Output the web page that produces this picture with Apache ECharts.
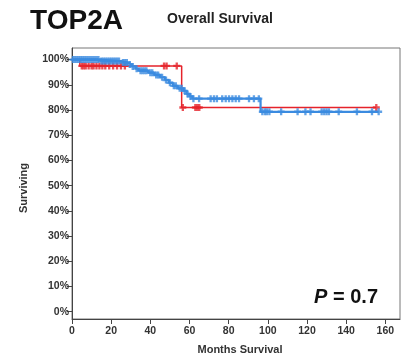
<!DOCTYPE html>
<html>
<head>
<meta charset="utf-8">
<script src="https://cdn.jsdelivr.net/npm/echarts@6/dist/echarts.min.js"></script>
<style>
  html, body { margin: 0; padding: 0; background: #fff; }
  #chart { width: 403px; height: 358px; }
</style>
</head>
<body>
<div id="chart"></div>
<script>
// Kaplan-Meier curves for TOP2A: event times (months) and survival (%) after each step
const blueTimes = [0, 14, 25, 28.5, 30.5, 32.5, 34, 39, 42, 45, 47.5, 49.5, 51.5, 54, 57, 58.5, 60, 61.5, 96.3];
const blueSurv  = [100, 99.4, 98.8, 98.1, 97.3, 96.4, 95.6, 94.8, 93.9, 93.0, 91.9, 90.8, 89.6, 88.6, 87.6, 86.4, 85.4, 84.5, 79.3];
const blueCensored = [0.5, 1.5, 2.5, 3.5, 4.5, 5.5, 6.5, 7.5, 8.5, 9.5, 10.5, 11.5, 12.5, 13.5, 15, 16, 17, 18, 19, 20,
  21, 22, 23, 24, 26, 27, 28, 29.5, 31, 33, 35, 36, 37, 38, 40, 41, 43, 44, 46, 48, 50, 52, 53, 55, 56, 57.5, 59, 60.5, 62,
  64.9, 70.8, 72.5, 74, 76.7, 78.5, 80.2, 81.9, 83.6, 85.3, 90.4, 92.9, 95.4,
  97.2, 98.5, 99.5, 100.8, 106.8, 115.2, 119.2, 121.8, 127.5, 128.8, 130.0, 131.2, 136.2, 145.5, 153.2, 156.6];
const blueEnd = 156.6;

const redTimes = [0, 4, 56];
const redSurv  = [100, 97.5, 81.0];
const redCensored = [5, 6, 7, 8.5, 10, 11, 12.5, 14, 15.5, 17, 19, 21, 23, 25, 27, 47, 48.3, 53.5, 56.6, 63, 64, 65, 155.4];
const redEnd = 155.4;

const xTicks = [0, 20, 40, 60, 80, 100, 120, 140, 160];
const yTicks = [0, 10, 20, 30, 40, 50, 60, 70, 80, 90, 100];

const FONT = "'Liberation Sans', Arial, Helvetica, sans-serif";
const BLUE = '#3b8be0';
const RED = '#e5232b';
// filled plus sign used for censored observations
const CROSS = 'path://M3,0h3v3h3v3h-3v3h-3v-3h-3v-3h3z';

// survival level in effect at time t
function levelAt(times, surv, t) {
  let v = surv[0];
  for (let i = 0; i < times.length; i++) if (times[i] <= t) v = surv[i];
  return v;
}
function curve(times, surv, end) {
  const pts = times.map((t, i) => [t, surv[i]]);
  pts.push([end, surv[surv.length - 1]]);
  return pts;
}
function marks(times, surv, cens) {
  return cens.map(t => [t, levelAt(times, surv, t)]);
}

const chart = echarts.init(document.getElementById('chart'), null, { renderer: 'canvas' });
chart.setOption({
  animation: false,
  backgroundColor: '#fff',
  grid: {
    left: 72, right: 3, top: 48, bottom: 39,
    show: true, borderColor: '#777', borderWidth: 1, backgroundColor: 'transparent'
  },
  xAxis: {
    type: 'value', min: 0, max: 167.5, interval: 20,
    axisLine: { onZero: false, lineStyle: { color: '#444', width: 1 } },
    axisTick: { show: true, length: 5, lineStyle: { color: '#444' }, customValues: xTicks },
    axisLabel: { customValues: xTicks, color: '#333', fontSize: 10.5, fontWeight: 'bold', fontFamily: FONT, margin: 7 },
    splitLine: { show: false }
  },
  yAxis: {
    type: 'value', min: -2.9, max: 104.6,
    axisLine: { show: true, lineStyle: { color: '#444', width: 1 } },
    axisTick: { show: true, length: 5, lineStyle: { color: '#444' }, customValues: yTicks },
    axisLabel: { customValues: yTicks, formatter: '{value}%', color: '#333', fontSize: 10.5, fontWeight: 'bold', fontFamily: FONT, margin: 3 },
    splitLine: { show: false }
  },
  series: [
    {
      type: 'line', step: 'end', data: curve(redTimes, redSurv, redEnd),
      showSymbol: false, lineStyle: { color: RED, width: 1.5 }, z: 2
    },
    {
      type: 'scatter', data: marks(redTimes, redSurv, redCensored),
      symbol: CROSS, symbolSize: 7, itemStyle: { color: RED }, z: 3
    },
    {
      type: 'line', step: 'end', data: curve(blueTimes, blueSurv, blueEnd),
      showSymbol: false, lineStyle: { color: BLUE, width: 2.2 }, z: 4
    },
    {
      type: 'scatter', data: marks(blueTimes, blueSurv, blueCensored),
      symbol: CROSS, symbolSize: 7, itemStyle: { color: BLUE }, z: 5
    }
  ],
  graphic: [
    { type: 'text', x: 76.5, y: 21, style: { text: 'TOP2A', fill: '#111', font: "bold 28px " + FONT, textAlign: 'center', textVerticalAlign: 'middle' } },
    { type: 'text', x: 220, y: 19.5, style: { text: 'Overall Survival', fill: '#222', font: "bold 14px " + FONT, textAlign: 'center', textVerticalAlign: 'middle' } },
    { type: 'text', x: 24, y: 188, rotation: Math.PI / 2, style: { text: 'Surviving', fill: '#333', font: "bold 11px " + FONT, textAlign: 'center', textVerticalAlign: 'middle' } },
    { type: 'text', x: 240, y: 350, style: { text: 'Months Survival', fill: '#333', font: "bold 11px " + FONT, textAlign: 'center', textVerticalAlign: 'middle' } },
    { type: 'text', x: 378, y: 297, style: {
        text: '{i|P} = 0.7', textAlign: 'right', textVerticalAlign: 'middle',
        font: "bold 20px " + FONT, fill: '#111',
        rich: { i: { fontStyle: 'italic', fontWeight: 'bold', fontSize: 20, fontFamily: FONT, fill: '#111' } }
      } }
  ]
});
</script>
</body>
</html>
